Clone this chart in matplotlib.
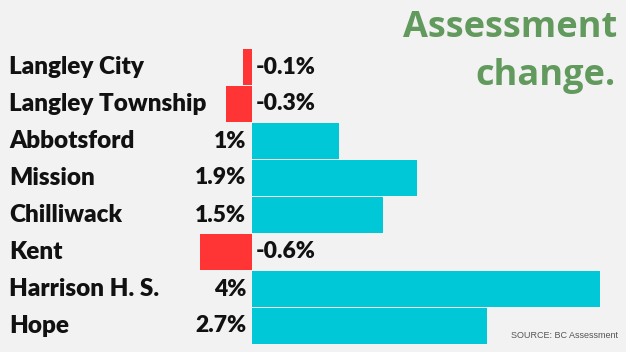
import numpy as np
import matplotlib.pyplot as plt

# assessment change by municipality (%)
places = ["Langley City", "Langley Township", "Abbotsford", "Mission",
          "Chilliwack", "Kent", "Harrison H. S.", "Hope"]
changes = [-0.1, -0.3, 1.0, 1.9, 1.5, -0.6, 4.0, 2.7]
value_labels = ["-0.1%", "-0.3%", "1%", "1.9%", "1.5%", "-0.6%", "4%", "2.7%"]

BG = "#f2f2f2"
CYAN = "#00c8d7"
RED = "#ff3535"
GREEN = "#629a5e"

W, H = 626, 352
fig = plt.figure(figsize=(W / 100, H / 100), dpi=100, facecolor=BG)

# axes placed so that zero sits at x=252px and 4% at x=600px
x_lo, x_hi = -1.0, 4.2
px_per = 87.0
left_px = 252 - px_per * (0 - x_lo)
right_px = 252 + px_per * x_hi
top_px, bot_px = 48.5, 344.5
ax = fig.add_axes([left_px / W, 1 - bot_px / H,
                   (right_px - left_px) / W, (bot_px - top_px) / H])
ax.set_facecolor(BG)
ax.set_xlim(x_lo, x_hi)
ax.set_ylim(len(places) - 0.5, -0.5)
ax.axis("off")

y = np.arange(len(places))
colors = [CYAN if v >= 0 else RED for v in changes]
ax.barh(y, changes, height=0.95, color=colors, edgecolor="none")

font = "Lato"
for i, (name, v, lab) in enumerate(zip(places, changes, value_labels)):
    ax.annotate(name, xy=(0, i), xycoords=("figure fraction", "data"),
                xytext=(9, 0), textcoords="offset pixels",
                ha="left", va="center", fontsize=17.5, fontweight="heavy",
                family=font, color="#111111")
    if v >= 0:
        ax.annotate(lab, xy=(0, i), xytext=(-6, 0), textcoords="offset pixels",
                    ha="right", va="center", fontsize=16.5, fontweight="heavy",
                    family=font, color="#111111")
    else:
        ax.annotate(lab, xy=(0, i), xytext=(4, 0), textcoords="offset pixels",
                    ha="left", va="center", fontsize=16.5, fontweight="heavy",
                    family=font, color="#111111")

fig.text(617 / W, 1 - 28 / H, "Assessment", ha="right", va="center",
         fontsize=26, fontweight="bold", family="Open Sans", color=GREEN)
fig.text(616 / W, 1 - 76 / H, "change.", ha="right", va="center",
         fontsize=26, fontweight="bold", family="Open Sans", color=GREEN)
fig.text(618 / W, 1 - 336 / H, "SOURCE: BC Assessment", ha="right",
         va="center", fontsize=6.5, family="Liberation Sans", color="#555555")

fig.savefig("out.png", dpi=100, facecolor=BG)
